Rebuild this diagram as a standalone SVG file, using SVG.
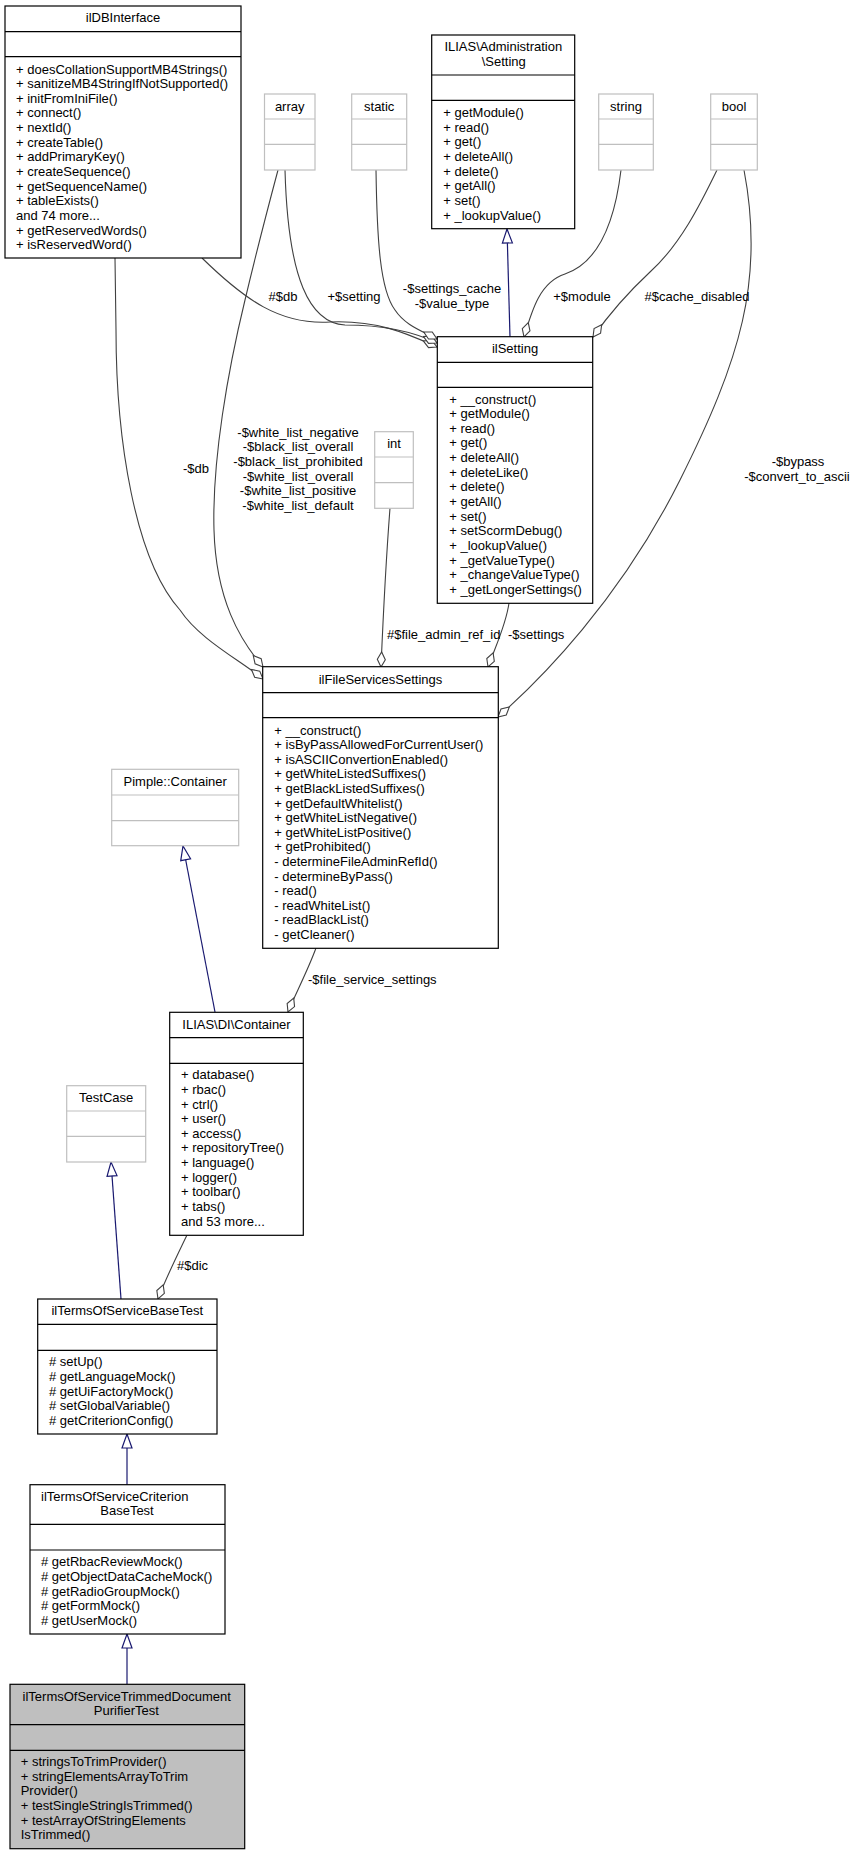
<svg xmlns="http://www.w3.org/2000/svg" width="855" height="1855" viewBox="0 0 855 1855">
<style>
text{font-family:"Liberation Sans",Arial,sans-serif;font-size:13px;fill:#000}
.m{text-anchor:middle}
.box{fill:#fff;stroke:#000;stroke-width:1.2}
.gbox{fill:#fff;stroke:#bfbfbf;stroke-width:1.2}
.sel{fill:#bfbfbf;stroke:#000;stroke-width:1.2}
.ln{stroke:#000;stroke-width:1.2}
.gln{stroke:#bfbfbf;stroke-width:1.2}
.agg{fill:none;stroke:#404040;stroke-width:1.1;marker-start:url(#dia)}
.inh{fill:none;stroke:#191970;stroke-width:1.2;marker-end:url(#tri)}
</style>
<defs>
<marker id="dia" markerWidth="18" markerHeight="12" refX="1" refY="6" orient="auto" markerUnits="userSpaceOnUse"><path d="M1,6 L8.5,2 L16,6 L8.5,10 Z" fill="#fff" stroke="#404040" stroke-width="1.1"/></marker>
<marker id="tri" markerWidth="17" markerHeight="13" refX="15" refY="6.5" orient="auto" markerUnits="userSpaceOnUse"><path d="M1,1.5 L15,6.5 L1,11.5 Z" fill="#fff" stroke="#191970" stroke-width="1.2"/></marker>
</defs>
<rect width="855" height="1855" fill="#fff"/>
<g id="connectors">
<path class="agg" d="M437,347 C410,335 380,320 330,322 C280,325 245,300 202,258"/>
<path class="agg" d="M437,343 C410,330 380,325 345,325 C310,323 288,280 285,170"/>
<path class="agg" d="M437,339 C420,330 405,325 395,310 C380,290 377,240 376,170"/>
<path class="agg" d="M524,337 C532,310 540,282 565,274 C600,262 615,220 621,170"/>
<path class="agg" d="M593,337 C605,320 620,300 650,272 C680,245 700,205 717,170"/>
<path class="agg" d="M498,717 C540,680 620,600 680,480 C740,360 765,280 744,170"/>
<path class="agg" d="M488,667 C496,645 506,625 509,603"/>
<path class="agg" d="M381,667 C383,620 386,560 390,508"/>
<path class="agg" d="M263,679 C240,660 200,640 180,610 C135,560 116,440 116,330 L115,258"/>
<path class="agg" d="M263,667 C240,640 216,600 214,530 C212,460 228,370 245,300 C258,245 270,200 278,170"/>
<path class="agg" d="M288,1012 C295,995 308,970 316,948"/>
<path class="agg" d="M158,1299 C165,1280 175,1260 187,1235"/>
<path class="inh" d="M510,337 L507,229"/>
<path class="inh" d="M215,1012 L183,846"/>
<path class="inh" d="M121,1299 L111,1162"/>
<path class="inh" d="M127,1485 L127,1434"/>
<path class="inh" d="M127,1684 L127,1634"/>
<text x="283" y="301" class="m">#$db</text>
<text x="354" y="301" class="m">+$setting</text>
<text x="452" y="293" class="m">-$settings_cache</text>
<text x="452" y="308" class="m">-$value_type</text>
<text x="582" y="301" class="m">+$module</text>
<text x="697" y="301" class="m">#$cache_disabled</text>
<text x="798" y="466" class="m">-$bypass</text>
<text x="797" y="481" class="m">-$convert_to_ascii</text>
<text x="196" y="473" class="m">-$db</text>
<text x="298" y="437" class="m">-$white_list_negative</text>
<text x="298" y="451" class="m">-$black_list_overall</text>
<text x="298" y="466" class="m">-$black_list_prohibited</text>
<text x="298" y="481" class="m">-$white_list_overall</text>
<text x="298" y="495" class="m">-$white_list_positive</text>
<text x="298" y="510" class="m">-$white_list_default</text>
<text x="387" y="639">#$file_admin_ref_id</text>
<text x="508" y="639">-$settings</text>
<text x="308" y="984">-$file_service_settings</text>
<text x="177" y="1270">#$dic</text>
</g>
<g id="ilDBInterface">
<rect class="box" x="5" y="6" width="236" height="252"/>
<line class="ln" x1="5" y1="31.7" x2="241" y2="31.7"/>
<line class="ln" x1="5" y1="56.7" x2="241" y2="56.7"/>
<text x="123" y="22" class="m">ilDBInterface</text>
<text x="16" y="73.5">+ doesCollationSupportMB4Strings()</text>
<text x="16" y="88.1">+ sanitizeMB4StringIfNotSupported()</text>
<text x="16" y="102.8">+ initFromIniFile()</text>
<text x="16" y="117.4">+ connect()</text>
<text x="16" y="132">+ nextId()</text>
<text x="16" y="146.7">+ createTable()</text>
<text x="16" y="161.3">+ addPrimaryKey()</text>
<text x="16" y="175.9">+ createSequence()</text>
<text x="16" y="190.6">+ getSequenceName()</text>
<text x="16" y="205.2">+ tableExists()</text>
<text x="16" y="219.8">and 74 more...</text>
<text x="16" y="234.5">+ getReservedWords()</text>
<text x="16" y="249.1">+ isReservedWord()</text>
</g>
<g id="array">
<rect class="gbox" x="264.5" y="94" width="50.5" height="76"/>
<line class="gln" x1="264.5" y1="119" x2="315" y2="119"/>
<line class="gln" x1="264.5" y1="144.3" x2="315" y2="144.3"/>
<text x="289.7" y="110.5" class="m">array</text>
</g>
<g id="static">
<rect class="gbox" x="351.7" y="94" width="55" height="76"/>
<line class="gln" x1="351.7" y1="119" x2="406.7" y2="119"/>
<line class="gln" x1="351.7" y1="144.3" x2="406.7" y2="144.3"/>
<text x="379.2" y="110.5" class="m">static</text>
</g>
<g id="ILIAS_Administration_Setting">
<rect class="box" x="431.7" y="35" width="143" height="193.7"/>
<line class="ln" x1="431.7" y1="75" x2="574.7" y2="75"/>
<line class="ln" x1="431.7" y1="100.3" x2="574.7" y2="100.3"/>
<text x="503.3" y="51.2" class="m">ILIAS\Administration</text>
<text x="503.8" y="66.2" class="m">\Setting</text>
<text x="443.3" y="117.2">+ getModule()</text>
<text x="443.3" y="131.8">+ read()</text>
<text x="443.3" y="146.4">+ get()</text>
<text x="443.3" y="161.1">+ deleteAll()</text>
<text x="443.3" y="175.7">+ delete()</text>
<text x="443.3" y="190.3">+ getAll()</text>
<text x="443.3" y="205">+ set()</text>
<text x="443.3" y="219.6">+ _lookupValue()</text>
</g>
<g id="string">
<rect class="gbox" x="598.7" y="94" width="54.6" height="76"/>
<line class="gln" x1="598.7" y1="119" x2="653.3" y2="119"/>
<line class="gln" x1="598.7" y1="144.3" x2="653.3" y2="144.3"/>
<text x="626" y="110.5" class="m">string</text>
</g>
<g id="bool">
<rect class="gbox" x="710.7" y="94" width="46.6" height="76"/>
<line class="gln" x1="710.7" y1="119" x2="757.3" y2="119"/>
<line class="gln" x1="710.7" y1="144.3" x2="757.3" y2="144.3"/>
<text x="734" y="110.5" class="m">bool</text>
</g>
<g id="ilSetting">
<rect class="box" x="437.3" y="336.7" width="155.4" height="266.6"/>
<line class="ln" x1="437.3" y1="362.3" x2="592.7" y2="362.3"/>
<line class="ln" x1="437.3" y1="387.3" x2="592.7" y2="387.3"/>
<text x="515" y="352.8" class="m">ilSetting</text>
<text x="449.3" y="403.5">+ __construct()</text>
<text x="449.3" y="418.1">+ getModule()</text>
<text x="449.3" y="432.8">+ read()</text>
<text x="449.3" y="447.4">+ get()</text>
<text x="449.3" y="462">+ deleteAll()</text>
<text x="449.3" y="476.7">+ deleteLike()</text>
<text x="449.3" y="491.3">+ delete()</text>
<text x="449.3" y="505.9">+ getAll()</text>
<text x="449.3" y="520.6">+ set()</text>
<text x="449.3" y="535.2">+ setScormDebug()</text>
<text x="449.3" y="549.8">+ _lookupValue()</text>
<text x="449.3" y="564.5">+ _getValueType()</text>
<text x="449.3" y="579.1">+ _changeValueType()</text>
<text x="449.3" y="593.7">+ _getLongerSettings()</text>
</g>
<g id="int">
<rect class="gbox" x="374.7" y="431.7" width="38.6" height="76.6"/>
<line class="gln" x1="374.7" y1="457" x2="413.3" y2="457"/>
<line class="gln" x1="374.7" y1="482.7" x2="413.3" y2="482.7"/>
<text x="394" y="447.8" class="m">int</text>
</g>
<g id="ilFileServicesSettings">
<rect class="box" x="262.7" y="666.7" width="235.6" height="281.6"/>
<line class="ln" x1="262.7" y1="692.7" x2="498.3" y2="692.7"/>
<line class="ln" x1="262.7" y1="717.7" x2="498.3" y2="717.7"/>
<text x="380.5" y="683.5" class="m">ilFileServicesSettings</text>
<text x="274.3" y="734.5">+ __construct()</text>
<text x="274.3" y="749.1">+ isByPassAllowedForCurrentUser()</text>
<text x="274.3" y="763.7">+ isASCIIConvertionEnabled()</text>
<text x="274.3" y="778.3">+ getWhiteListedSuffixes()</text>
<text x="274.3" y="792.9">+ getBlackListedSuffixes()</text>
<text x="274.3" y="807.5">+ getDefaultWhitelist()</text>
<text x="274.3" y="822.1">+ getWhiteListNegative()</text>
<text x="274.3" y="836.7">+ getWhiteListPositive()</text>
<text x="274.3" y="851.3">+ getProhibited()</text>
<text x="274.3" y="865.9">- determineFileAdminRefId()</text>
<text x="274.3" y="880.5">- determineByPass()</text>
<text x="274.3" y="895.1">- read()</text>
<text x="274.3" y="909.7">- readWhiteList()</text>
<text x="274.3" y="924.3">- readBlackList()</text>
<text x="274.3" y="938.9">- getCleaner()</text>
</g>
<g id="Pimple_Container">
<rect class="gbox" x="111.7" y="769.3" width="127" height="76.4"/>
<line class="gln" x1="111.7" y1="795" x2="238.7" y2="795"/>
<line class="gln" x1="111.7" y1="820.7" x2="238.7" y2="820.7"/>
<text x="175.2" y="786.2" class="m">Pimple::Container</text>
</g>
<g id="ILIAS_DI_Container">
<rect class="box" x="169.7" y="1012.3" width="133.6" height="223"/>
<line class="ln" x1="169.7" y1="1037.7" x2="303.3" y2="1037.7"/>
<line class="ln" x1="169.7" y1="1063.3" x2="303.3" y2="1063.3"/>
<text x="236.5" y="1028.8" class="m">ILIAS\DI\Container</text>
<text x="181" y="1079.2">+ database()</text>
<text x="181" y="1093.8">+ rbac()</text>
<text x="181" y="1108.5">+ ctrl()</text>
<text x="181" y="1123.1">+ user()</text>
<text x="181" y="1137.7">+ access()</text>
<text x="181" y="1152.4">+ repositoryTree()</text>
<text x="181" y="1167">+ language()</text>
<text x="181" y="1181.6">+ logger()</text>
<text x="181" y="1196.3">+ toolbar()</text>
<text x="181" y="1210.9">+ tabs()</text>
<text x="181" y="1225.5">and 53 more...</text>
</g>
<g id="TestCase">
<rect class="gbox" x="66.7" y="1085.7" width="79" height="76.3"/>
<line class="gln" x1="66.7" y1="1111" x2="145.7" y2="1111"/>
<line class="gln" x1="66.7" y1="1136.3" x2="145.7" y2="1136.3"/>
<text x="106.2" y="1101.8" class="m">TestCase</text>
</g>
<g id="ilTermsOfServiceBaseTest">
<rect class="box" x="37.7" y="1299" width="179.3" height="135"/>
<line class="ln" x1="37.7" y1="1324.3" x2="217" y2="1324.3"/>
<line class="ln" x1="37.7" y1="1350.3" x2="217" y2="1350.3"/>
<text x="127.3" y="1315.2" class="m">ilTermsOfServiceBaseTest</text>
<text x="49" y="1366.2"># setUp()</text>
<text x="49" y="1380.8"># getLanguageMock()</text>
<text x="49" y="1395.5"># getUiFactoryMock()</text>
<text x="49" y="1410.1"># setGlobalVariable()</text>
<text x="49" y="1424.7"># getCriterionConfig()</text>
</g>
<g id="ilTermsOfServiceCriterionBaseTest">
<rect class="box" x="30" y="1484.7" width="195" height="149.3"/>
<line class="ln" x1="30" y1="1524.3" x2="225" y2="1524.3"/>
<line class="ln" x1="30" y1="1550" x2="225" y2="1550"/>
<text x="41" y="1501.2">ilTermsOfServiceCriterion</text>
<text x="127" y="1514.5" class="m">BaseTest</text>
<text x="41" y="1566.2"># getRbacReviewMock()</text>
<text x="41" y="1580.8"># getObjectDataCacheMock()</text>
<text x="41" y="1595.5"># getRadioGroupMock()</text>
<text x="41" y="1610.1"># getFormMock()</text>
<text x="41" y="1624.7"># getUserMock()</text>
</g>
<g id="ilTermsOfServiceTrimmedDocumentPurifierTest">
<rect class="sel" x="10" y="1684.3" width="234.7" height="164.4"/>
<line class="ln" x1="10" y1="1724.7" x2="244.7" y2="1724.7"/>
<line class="ln" x1="10" y1="1750.3" x2="244.7" y2="1750.3"/>
<text x="126.7" y="1701.2" class="m">ilTermsOfServiceTrimmedDocument</text>
<text x="126.3" y="1715.2" class="m">PurifierTest</text>
<text x="20.7" y="1766.2">+ stringsToTrimProvider()</text>
<text x="20.7" y="1781.2">+ stringElementsArrayToTrim</text>
<text x="20.7" y="1795.2">Provider()</text>
<text x="20.7" y="1810.2">+ testSingleStringIsTrimmed()</text>
<text x="20.7" y="1824.5">+ testArrayOfStringElements</text>
<text x="20.7" y="1838.8">IsTrimmed()</text>
</g>
</svg>
